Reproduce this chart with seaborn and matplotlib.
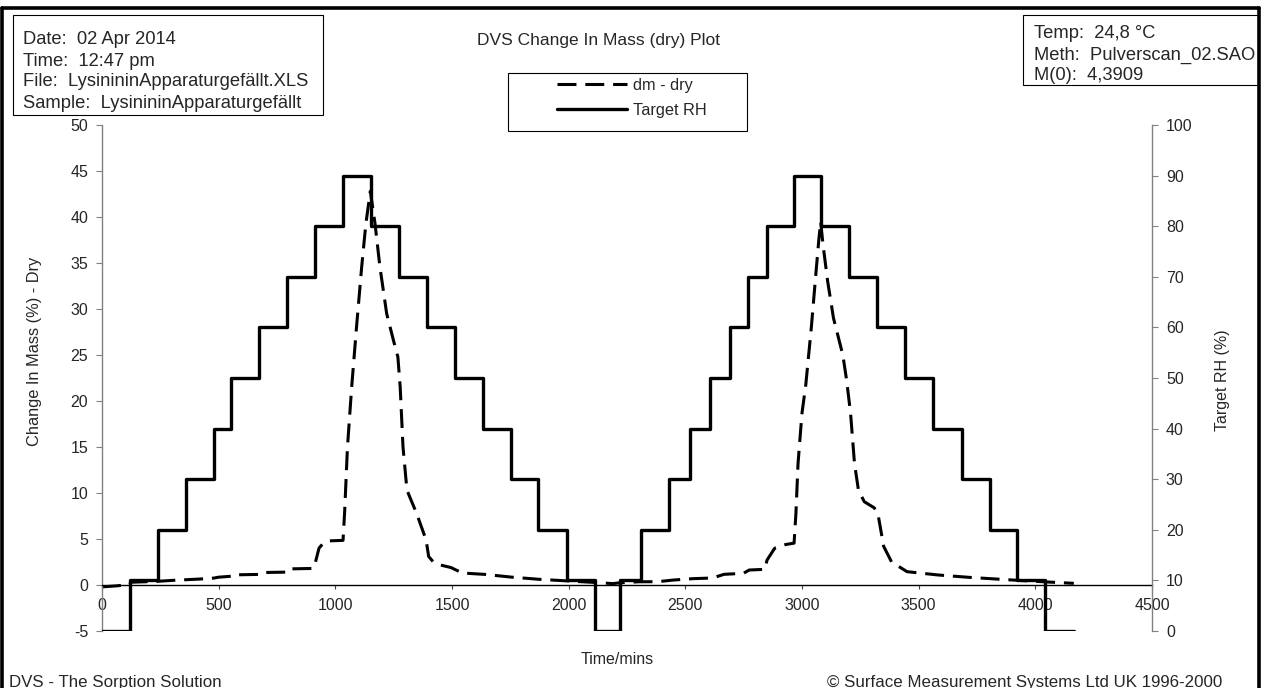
import matplotlib
matplotlib.use('Agg')
import matplotlib.pyplot as plt
from matplotlib.lines import Line2D
from matplotlib.patches import Rectangle
import pandas as pd
import seaborn as sns

# ---- values ----
# Target RH: start time of each step (mins) and the RH level (%)
rh_time = [0, 119, 238, 360, 479, 553, 673, 791, 913, 1034, 1153, 1273, 1392, 1513,
           1633, 1753, 1870, 1992, 2112, 2222, 2312, 2432, 2519, 2607, 2690, 2770,
           2850, 2966, 3082, 3202, 3322, 3442, 3562, 3684, 3804, 3921, 4043, 4165]
rh_level = [0, 10, 20, 30, 40, 50, 60, 70, 80, 90, 80, 70, 60, 50,
            40, 30, 20, 10, 0, 10, 20, 30, 40, 50, 60, 70,
            80, 90, 80, 70, 60, 50, 40, 30, 20, 10, 0, 0]

# change in mass (dry), %
dm_time = [0, 60, 117, 125, 238, 300, 420, 479, 500, 553, 560, 670, 680, 790, 800,
           905, 915, 930, 950, 975, 1033, 1040, 1052, 1070, 1091, 1113, 1131, 1150,
           1170, 1191, 1220, 1250, 1268, 1278, 1290, 1307, 1348, 1389, 1400, 1420,
           1446, 1495, 1520, 1545, 1643, 1700, 1757, 1873, 2004, 2110, 2190, 2222,
           2300, 2382, 2449, 2533, 2616, 2666, 2749, 2774, 2841, 2850, 2883, 2930,
           2966, 2974, 2983, 3000, 3016, 3040, 3060, 3072, 3080, 3090, 3110, 3135,
           3160, 3175, 3191, 3208, 3225, 3242, 3267, 3309, 3325, 3350, 3384, 3450,
           3583, 3717, 3851, 3951, 4050, 4165]
dm_value = [-0.2, -0.1, 0.05, 0.3, 0.4, 0.5, 0.65, 0.75, 0.85, 0.95, 1.1, 1.15, 1.35, 1.4, 1.75,
            1.8, 2.5, 4.0, 4.6, 4.8, 4.85, 8.0, 15.0, 21.5, 28.1, 34.6, 39.3, 42.8,
            39.3, 34.6, 29.5, 26.5, 24.8, 21.5, 15.0, 10.3, 7.8, 4.9, 3.1, 2.5,
            2.2, 1.9, 1.6, 1.3, 1.15, 1.0, 0.85, 0.62, 0.43, 0.28, 0.15, 0.25,
            0.35, 0.36, 0.54, 0.69, 0.76, 1.16, 1.27, 1.63, 1.7, 2.7, 4.0, 4.4,
            4.55, 7.8, 13.2, 18.7, 21.7, 28.0, 34.0, 37.5, 39.5, 37.0, 33.0, 29.0,
            26.5, 25.0, 22.3, 18.7, 13.2, 10.3, 9.05, 8.4, 7.8, 4.2, 2.5, 1.45,
            1.09, 0.83, 0.62, 0.47, 0.33, 0.18]

x_ticks = list(range(0, 4501, 500))
left_ticks = list(range(-5, 51, 5))
right_ticks = list(range(0, 101, 10))

info_left = ["Date:  02 Apr 2014", "Time:  12:47 pm",
             "File:  LysinininApparaturgefällt.XLS", "Sample:  LysinininApparaturgefällt"]
info_right = ["Temp:  24,8 °C", "Meth:  Pulverscan_02.SAO", "M(0):  4,3909"]

W, H = 1261, 688


def fx(px):
    return px / W


def fy(py):
    return 1 - py / H


sns.set_style('white')
plt.rcParams['font.family'] = ['Liberation Sans', 'DejaVu Sans']
plt.rcParams['axes.unicode_minus'] = False

dm_df = pd.DataFrame({'time': dm_time, 'dm': dm_value})
rh_df = pd.DataFrame({'time': rh_time, 'rh': rh_level})

fig = plt.figure(figsize=(W / 100, H / 100), dpi=100)
ax = fig.add_axes([fx(102), fy(631), fx(1152) - fx(102), fy(125) - fy(631)])
ax2 = ax.twinx()

sns.lineplot(data=dm_df, x='time', y='dm', ax=ax, color='black', lw=2.2,
             estimator=None, sort=False)
dm_line = ax.lines[-1]
dm_line.set_dashes([6.2, 2.9])

sns.lineplot(data=rh_df, x='time', y='rh', ax=ax2, color='black', lw=2.4,
             estimator=None, sort=False, drawstyle='steps-post')
rh_line = ax2.lines[-1]

ax.set_xlim(0, 4500)
ax.set_ylim(-5, 50)
ax2.set_ylim(0, 100)
ax.set_xticks(x_ticks)
ax.set_yticks(left_ticks)
ax2.set_yticks(right_ticks)

for a in (ax, ax2):
    a.set_facecolor('none')
    a.spines['top'].set_visible(False)
ax.spines['right'].set_visible(False)
ax2.spines['left'].set_visible(False)
ax2.spines['bottom'].set_visible(False)

ax.spines['bottom'].set_position(('data', 0))
ax.spines['bottom'].set_color('black')
ax.spines['bottom'].set_linewidth(1.0)
ax.spines['left'].set_color('#808080')
ax.spines['left'].set_linewidth(1.0)
ax2.spines['right'].set_color('#808080')
ax2.spines['right'].set_linewidth(1.0)

tick_fs = 11.5
ax.tick_params(axis='x', direction='out', length=3, width=0.8, color='#404040',
               labelsize=tick_fs, pad=6, bottom=True)
ax.tick_params(axis='y', direction='out', length=4, width=0.8, color='#808080',
               labelsize=tick_fs, pad=6, left=True)
ax2.tick_params(axis='y', direction='out', length=4, width=0.8, color='#808080',
                labelsize=tick_fs, pad=6, right=True)

ax.set_xlabel('Time/mins', fontsize=11.5)
ax.xaxis.set_label_coords((617 - 102) / 1050, -(652 - 631) / 506)
ax.set_ylabel('Change In Mass (%) - Dry', fontsize=11.8)
ax.yaxis.set_label_coords((42 - 102) / 1050, (631 - 351) / 506)
ax2.set_ylabel('Target RH (%)', fontsize=11.5)
ax2.yaxis.set_label_coords((1215 - 102) / 1050, (631 - 380) / 506)

# title
fig.text(fx(720), fy(40), 'DVS Change In Mass (dry) Plot', fontsize=12.5,
         ha='right', va='center')

# legend with its own box
fig.add_artist(Rectangle((fx(508), fy(131)), fx(747) - fx(508), fy(73) - fy(131),
                         transform=fig.transFigure, fill=False, ec='black', lw=0.8))
fig.legend([dm_line, rh_line], ['dm - dry', 'Target RH'], loc='upper left',
           bbox_to_anchor=(fx(557), fy(78)), frameon=False, fontsize=11.7,
           handlelength=4.3, handletextpad=0.38, labelspacing=0.62,
           borderpad=0, borderaxespad=0)

# info boxes
fig.add_artist(Rectangle((fx(13), fy(115)), fx(323) - fx(13), fy(15) - fy(115),
                         transform=fig.transFigure, fill=False, ec='black', lw=0.8))
for txt, yc in zip(info_left, [39, 61, 82, 104]):
    fig.text(fx(23), fy(yc), txt, fontsize=13.2, ha='left', va='center')

fig.add_artist(Rectangle((fx(1023), fy(85)), fx(1258) - fx(1023), fy(15) - fy(85),
                         transform=fig.transFigure, fill=False, ec='black', lw=0.8))
for txt, yc in zip(info_right, [33, 55, 75]):
    fig.text(fx(1034), fy(yc), txt, fontsize=13.2, ha='left', va='center')

# footer
fig.text(fx(9), fy(682), 'DVS - The Sorption Solution', fontsize=12.2,
         ha='left', va='center')
fig.text(fx(1222), fy(682), '© Surface Measurement Systems Ltd UK 1996-2000',
         fontsize=12.2, ha='right', va='center')

# outer frame (left, top, right)
for xs, ys in [([fx(2), fx(2)], [0, fy(8)]),
               ([fx(2), fx(1259)], [fy(8), fy(8)]),
               ([fx(1259), fx(1259)], [fy(8), 0])]:
    fig.add_artist(Line2D(xs, ys, transform=fig.transFigure, color='black', lw=2.6))

fig.savefig('out.png', dpi=100)
